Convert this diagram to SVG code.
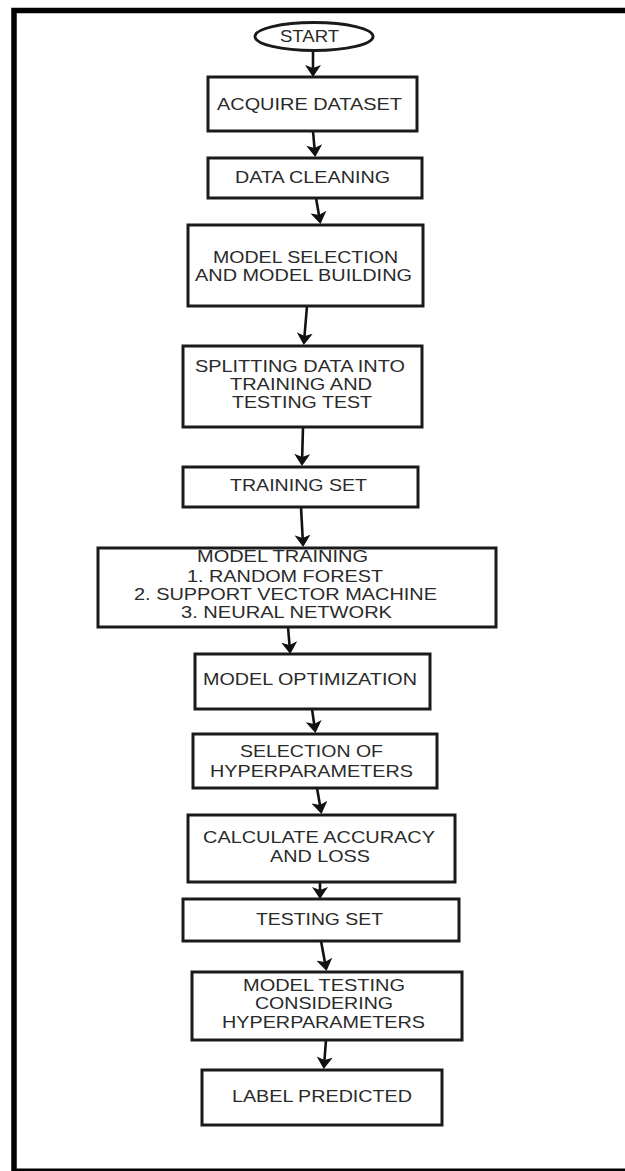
<svg xmlns="http://www.w3.org/2000/svg" width="625" height="1171" viewBox="0 0 625 1171">
<style>
.box{fill:#fff;stroke:#1a1a1a;stroke-width:3}
.lbl{font-family:"Liberation Sans",Arial,sans-serif;font-size:17px;fill:#2a2a2a}
.con{fill:none;stroke:#111;stroke-width:2.6}
.frame{fill:none;stroke:#000}
</style>
<defs>
<marker id="arr" viewBox="0 0 12 16" refX="9" refY="8" markerWidth="12" markerHeight="16" markerUnits="userSpaceOnUse" orient="auto">
<path d="M0,0 L12,8 L0,16 L3,8 Z" fill="#111"/>
</marker>
</defs>
<rect width="625" height="1171" fill="#fff"/>
<g id="frame">
<path class="frame" d="M14,1171 L14,10.5 L625,10.5" stroke-width="5.5"/>
<path class="frame" d="M14,1170 L625,1170" stroke-width="3"/>
</g>
<g id="connectors">
<line class="con" x1="313" y1="51" x2="313" y2="74" marker-end="url(#arr)"/>
<line class="con" x1="313" y1="131" x2="315" y2="154" marker-end="url(#arr)"/>
<line class="con" x1="316" y1="198" x2="320" y2="221" marker-end="url(#arr)"/>
<line class="con" x1="307" y1="306" x2="304" y2="342" marker-end="url(#arr)"/>
<line class="con" x1="303" y1="427" x2="302" y2="463" marker-end="url(#arr)"/>
<line class="con" x1="301" y1="507" x2="303" y2="544" marker-end="url(#arr)"/>
<line class="con" x1="288" y1="627" x2="290" y2="651" marker-end="url(#arr)"/>
<line class="con" x1="312" y1="709" x2="315" y2="730" marker-end="url(#arr)"/>
<line class="con" x1="317" y1="788" x2="321" y2="811" marker-end="url(#arr)"/>
<line class="con" x1="320" y1="882" x2="320" y2="896" marker-end="url(#arr)"/>
<line class="con" x1="321" y1="941" x2="326" y2="968" marker-end="url(#arr)"/>
<line class="con" x1="326" y1="1040" x2="324" y2="1066" marker-end="url(#arr)"/>
</g>
<g id="start">
<ellipse class="box" cx="314" cy="36.5" rx="59" ry="14"/>
<text class="lbl" x="280" y="42" textLength="59" lengthAdjust="spacingAndGlyphs">START</text>
</g>
<g id="acquire">
<rect class="box" x="208" y="77" width="209" height="54"/>
<text class="lbl" x="217" y="110" textLength="185" lengthAdjust="spacingAndGlyphs">ACQUIRE DATASET</text>
</g>
<g id="cleaning">
<rect class="box" x="208" y="158" width="214" height="40"/>
<text class="lbl" x="235" y="183" textLength="155" lengthAdjust="spacingAndGlyphs">DATA CLEANING</text>
</g>
<g id="selection">
<rect class="box" x="188" y="225" width="235" height="81"/>
<text class="lbl" x="213" y="263" textLength="185" lengthAdjust="spacingAndGlyphs">MODEL SELECTION</text>
<text class="lbl" x="195" y="281" textLength="217" lengthAdjust="spacingAndGlyphs">AND MODEL BUILDING</text>
</g>
<g id="splitting">
<rect class="box" x="183" y="346" width="239" height="81"/>
<text class="lbl" x="195" y="372" textLength="210" lengthAdjust="spacingAndGlyphs">SPLITTING DATA INTO</text>
<text class="lbl" x="230" y="390" textLength="142" lengthAdjust="spacingAndGlyphs">TRAINING AND</text>
<text class="lbl" x="232" y="408" textLength="140" lengthAdjust="spacingAndGlyphs">TESTING TEST</text>
</g>
<g id="trainingset">
<rect class="box" x="183" y="467" width="235" height="40"/>
<text class="lbl" x="230" y="491" textLength="137" lengthAdjust="spacingAndGlyphs">TRAINING SET</text>
</g>
<g id="training">
<rect class="box" x="98" y="548" width="398" height="79"/>
<text class="lbl" x="197" y="562" textLength="171" lengthAdjust="spacingAndGlyphs">MODEL TRAINING</text>
<text class="lbl" x="187" y="582" textLength="196" lengthAdjust="spacingAndGlyphs">1. RANDOM FOREST</text>
<text class="lbl" x="134" y="600" textLength="303" lengthAdjust="spacingAndGlyphs">2. SUPPORT VECTOR MACHINE</text>
<text class="lbl" x="181" y="618" textLength="211" lengthAdjust="spacingAndGlyphs">3. NEURAL NETWORK</text>
</g>
<g id="optimization">
<rect class="box" x="195" y="654" width="235" height="55"/>
<text class="lbl" x="203" y="685" textLength="214" lengthAdjust="spacingAndGlyphs">MODEL OPTIMIZATION</text>
</g>
<g id="hyper">
<rect class="box" x="193" y="734" width="244" height="54"/>
<text class="lbl" x="240" y="757" textLength="143" lengthAdjust="spacingAndGlyphs">SELECTION OF</text>
<text class="lbl" x="210" y="777" textLength="203" lengthAdjust="spacingAndGlyphs">HYPERPARAMETERS</text>
</g>
<g id="accuracy">
<rect class="box" x="188" y="815" width="267" height="67"/>
<text class="lbl" x="203" y="843" textLength="232" lengthAdjust="spacingAndGlyphs">CALCULATE ACCURACY</text>
<text class="lbl" x="270" y="862" textLength="100" lengthAdjust="spacingAndGlyphs">AND LOSS</text>
</g>
<g id="testingset">
<rect class="box" x="183" y="899" width="276" height="42"/>
<text class="lbl" x="256" y="925" textLength="127" lengthAdjust="spacingAndGlyphs">TESTING SET</text>
</g>
<g id="testing">
<rect class="box" x="192" y="972" width="270" height="68"/>
<text class="lbl" x="243" y="991" textLength="162" lengthAdjust="spacingAndGlyphs">MODEL TESTING</text>
<text class="lbl" x="255" y="1009" textLength="138" lengthAdjust="spacingAndGlyphs">CONSIDERING</text>
<text class="lbl" x="222" y="1028" textLength="203" lengthAdjust="spacingAndGlyphs">HYPERPARAMETERS</text>
</g>
<g id="predicted">
<rect class="box" x="202" y="1070" width="240" height="55"/>
<text class="lbl" x="232" y="1102" textLength="180" lengthAdjust="spacingAndGlyphs">LABEL PREDICTED</text>
</g>
</svg>
